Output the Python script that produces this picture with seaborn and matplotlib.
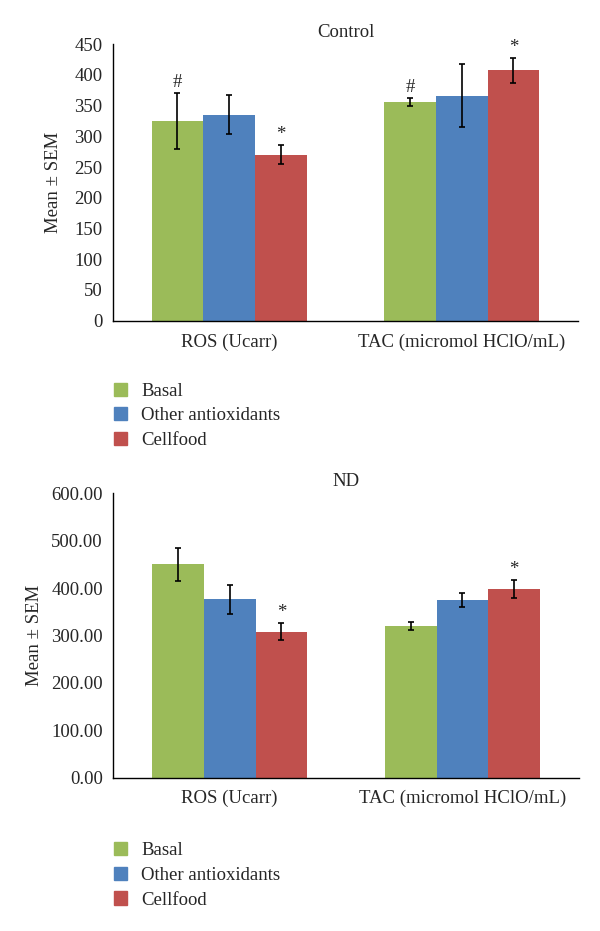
import pandas as pd
import numpy as np
import matplotlib.pyplot as plt
import seaborn as sns

categories = ['ROS (Ucarr)', 'TAC (micromol HClO/mL)']
groups = ['Basal', 'Other antioxidants', 'Cellfood']
colors = ['#9BBB59', '#4F81BD', '#C0504D']

# Control panel
control_mean = {'Basal': [325, 356], 'Other antioxidants': [335, 366], 'Cellfood': [270, 407]}
control_sem = {'Basal': [45, 6], 'Other antioxidants': [32, 51], 'Cellfood': [15, 20]}
control_marks = {'Basal': ['#', '#'], 'Other antioxidants': ['', ''], 'Cellfood': ['*', '*']}

# ND panel
nd_mean = {'Basal': [450, 320], 'Other antioxidants': [376, 375], 'Cellfood': [308, 398]}
nd_sem = {'Basal': [35, 8], 'Other antioxidants': [30, 15], 'Cellfood': [18, 18]}
nd_marks = {'Basal': ['', ''], 'Other antioxidants': ['', ''], 'Cellfood': ['*', '*']}

sns.set_style('white')
plt.rcParams['font.family'] = ['Liberation Serif', 'DejaVu Serif']
FS = 13.5


def draw_panel(ax, means, sems, marks, title, ymax, ystep, fmt):
    rows = []
    for g in groups:
        for c, m in zip(categories, means[g]):
            rows.append({'category': c, 'group': g, 'value': m})
    df = pd.DataFrame(rows)
    sns.barplot(data=df, x='category', y='value', hue='group', order=categories,
                hue_order=groups, palette=colors, width=0.666, gap=0, errorbar=None,
                saturation=1, linewidth=0, ax=ax, legend=False)
    # patches come out group by group
    bars = [p for p in ax.patches if p.get_width() > 0]
    i = 0
    for g in groups:
        for j in range(len(categories)):
            p = bars[i]
            i += 1
            xc = p.get_x() + p.get_width() / 2
            m = means[g][j]
            s = sems[g][j]
            ax.errorbar(xc, m, yerr=s, color='black', capsize=2.5, lw=1.2, capthick=1.2)
            if marks[g][j]:
                ax.text(xc, m + s + ymax * 0.008, marks[g][j], ha='center', va='bottom', fontsize=FS)
    ax.set_xlim(-0.5, 1.5)
    ax.set_ylim(0, ymax)
    ticks = np.arange(0, ymax + 1, ystep)
    ax.set_yticks(ticks)
    ax.set_yticklabels([fmt.format(v) for v in ticks])
    ax.set_xticks([-0.5, 0.5, 1.5])
    ax.set_xticklabels([])
    ax.set_xticks([0, 1], minor=True)
    ax.set_xticklabels(categories, minor=True)
    ax.tick_params(axis='x', which='minor', length=0, pad=9, labelsize=FS)
    ax.tick_params(axis='x', which='major', length=3, direction='out', width=1)
    ax.tick_params(axis='y', length=2.5, direction='out', width=1, pad=5, labelsize=FS)
    sns.despine(ax=ax)
    for sp in ['left', 'bottom']:
        ax.spines[sp].set_color('black')
        ax.spines[sp].set_linewidth(1)
    ax.set_xlabel('')
    ax.set_ylabel('Mean ± SEM', fontsize=FS)
    ax.set_title(title, fontsize=FS, pad=5)


fig = plt.figure(figsize=(6, 9.31), dpi=100)
ax1 = fig.add_axes([0.188, 0.6555, 0.7755, 0.2972])
ax2 = fig.add_axes([0.189, 0.1647, 0.7755, 0.3055])

draw_panel(ax1, control_mean, control_sem, control_marks, 'Control', 450, 50, '{:.0f}')
draw_panel(ax2, nd_mean, nd_sem, nd_marks, 'ND', 600, 100, '{:.2f}')
ax1.yaxis.set_label_coords(-0.11, 0.5)
ax2.yaxis.set_label_coords(-0.152, 0.5)

handles = [plt.Rectangle((0, 0), 1, 1, color=c) for c in colors]
for y in [0.597, 0.1035]:
    fig.legend(handles, groups, loc='upper left', bbox_to_anchor=(0.1775, y), frameon=False,
               fontsize=FS, handlelength=0.7, handleheight=0.7, labelspacing=0.4,
               handletextpad=0.75, borderaxespad=0)

fig.savefig('out.png', dpi=100)
